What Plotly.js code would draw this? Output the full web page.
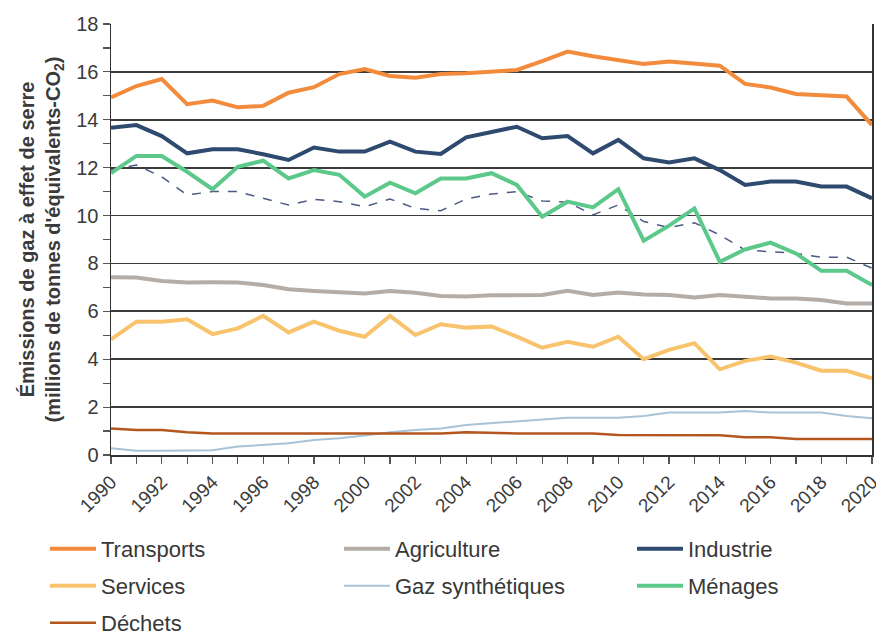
<!DOCTYPE html>
<html>
<head>
<meta charset="utf-8">
<script src="https://cdn.plot.ly/plotly-3.0.1.min.js"></script>
<style>html,body{margin:0;padding:0;background:#fff;}#chart{width:876px;height:634px;}</style>
</head>
<body>
<div id="chart"></div>
<script>
const years = [1990,1991,1992,1993,1994,1995,1996,1997,1998,1999,2000,2001,2002,2003,2004,2005,2006,2007,2008,2009,2010,2011,2012,2013,2014,2015,2016,2017,2018,2019,2020];
const transports = [14.93,15.41,15.70,14.65,14.80,14.52,14.58,15.13,15.36,15.91,16.12,15.83,15.76,15.91,15.94,16.00,16.08,16.45,16.85,16.65,16.50,16.33,16.43,16.36,16.26,15.50,15.35,15.08,15.04,14.97,13.78];
const agriculture = [7.42,7.41,7.27,7.20,7.21,7.20,7.10,6.92,6.85,6.82,6.75,6.85,6.78,6.64,6.62,6.67,6.68,6.68,6.86,6.68,6.79,6.70,6.68,6.58,6.68,6.62,6.54,6.54,6.47,6.33,6.33];
const industrie = [13.67,13.78,13.32,12.60,12.77,12.77,12.56,12.32,12.84,12.67,12.67,13.09,12.67,12.57,13.27,13.50,13.71,13.23,13.32,12.60,13.16,12.39,12.22,12.39,11.90,11.28,11.42,11.42,11.21,11.21,10.72];
const services = [4.83,5.57,5.57,5.67,5.05,5.29,5.81,5.12,5.57,5.19,4.94,5.81,5.01,5.46,5.32,5.37,4.94,4.48,4.73,4.52,4.94,4.00,4.39,4.67,3.58,3.93,4.11,3.86,3.52,3.52,3.20];
const gazSynth = [0.28,0.18,0.18,0.18,0.20,0.35,0.42,0.49,0.63,0.70,0.81,0.95,1.04,1.11,1.25,1.33,1.43,1.49,1.56,1.56,1.56,1.63,1.77,1.77,1.77,1.84,1.77,1.77,1.77,1.63,1.53];
const menages = [11.77,12.49,12.49,11.83,11.10,12.04,12.29,11.55,11.90,11.70,10.79,11.37,10.93,11.55,11.55,11.77,11.28,9.95,10.58,10.34,11.10,8.95,9.58,10.30,8.07,8.59,8.87,8.42,7.69,7.69,7.10];
const menagesCorr = [11.90,12.11,11.62,10.86,11.00,11.00,10.72,10.44,10.68,10.58,10.37,10.69,10.30,10.20,10.69,10.90,11.00,10.61,10.56,10.03,10.44,9.75,9.50,9.70,9.19,8.56,8.49,8.42,8.26,8.26,7.80];
const dechets = [1.11,1.04,1.04,0.95,0.90,0.90,0.90,0.90,0.90,0.90,0.90,0.90,0.90,0.90,0.95,0.92,0.90,0.90,0.90,0.90,0.84,0.83,0.83,0.83,0.83,0.74,0.74,0.67,0.67,0.67,0.67];

function tr(name, y, color, width, legend, extra) {
  return Object.assign({
    type: 'scatter', mode: 'lines', x: years, y: y, name: name,
    line: {color: color, width: width}, legend: legend
  }, extra || {});
}

const data = [
  tr('Gaz synthétiques', gazSynth, '#a9c3d6', 2, 'legend5'),
  tr('Déchets', dechets, '#b5561e', 2.5, 'legend7'),
  tr('Agriculture', agriculture, '#b5aca6', 4, 'legend2'),
  tr('Services', services, '#f8c36c', 4, 'legend4'),
  tr('Ménages (corrigé du climat)', menagesCorr, '#4a5a84', 1.5, 'legend', {line: {color: '#4a5a84', width: 1.5, dash: 'dash'}, showlegend: false}),
  tr('Ménages', menages, '#5cc98a', 4, 'legend6'),
  tr('Industrie', industrie, '#2e4a6e', 4, 'legend3'),
  tr('Transports', transports, '#f28c3c', 4, 'legend')
];

// plot area in pixels: x 111..872, y 24..455
const PL = 111, PW = 761, PB = 455, PH = 431;
const legendFont = {family: 'Liberation Sans, Arial, sans-serif', size: 22, color: '#383838'};
function leg(leftPx, centerYPx) {
  return {
    orientation: 'h', x: (leftPx - PL) / PW, xanchor: 'left',
    y: (PB - centerYPx) / PH, yanchor: 'middle',
    font: legendFont, bgcolor: 'rgba(0,0,0,0)', itemwidth: 46, borderwidth: 0
  };
}
const colL = [45, 339, 632];
const rowY = [549, 586, 623];

const layout = {
  width: 876, height: 634,
  margin: {l: 111, r: 4, t: 24, b: 179, autoexpand: false},
  paper_bgcolor: '#ffffff', plot_bgcolor: '#ffffff',
  font: {family: 'Liberation Sans, Arial, sans-serif', color: '#3a3a3a'},
  showlegend: true,
  xaxis: {
    range: [1990, 2020], dtick: 2, tick0: 1990, tickangle: -45,
    showgrid: false, zeroline: false,
    showline: true, linecolor: '#333', linewidth: 1.5, mirror: false,
    ticks: 'outside', ticklen: 7, tickcolor: '#555', tickwidth: 1.2,
    minor: {dtick: 1, ticks: 'outside', ticklen: 7, tickcolor: '#555', showgrid: false},
    tickfont: {size: 19, color: '#3a3a3a'}, ticklabeloverflow: 'allow'
  },
  yaxis: {
    range: [0, 18], dtick: 2, showgrid: true, gridcolor: '#3c3c3c', gridwidth: 1.7,
    zeroline: false, showline: true, linecolor: '#333', linewidth: 1.5, mirror: true,
    ticks: 'outside', ticklen: 7, tickcolor: '#555', tickwidth: 1.2,
    minor: {dtick: 1, ticks: 'outside', ticklen: 7, tickcolor: '#555', showgrid: false},
    tickfont: {size: 20, color: '#3a3a3a'},
    title: {text: '<b>Émissions de gaz à effet de serre</b><br><b>(millions de tonnes d\'équivalents-CO<sub>2</sub>)</b>',
            font: {size: 20, color: '#3a3a3a'}, standoff: 10}
  },
  legend: leg(colL[0], rowY[0]),
  legend2: leg(colL[1], rowY[0]),
  legend3: leg(colL[2], rowY[0]),
  legend4: leg(colL[0], rowY[1]),
  legend5: leg(colL[1], rowY[1]),
  legend6: leg(colL[2], rowY[1]),
  legend7: leg(colL[0], rowY[2])
};

Plotly.newPlot('chart', data, layout, {displayModeBar: false, staticPlot: true});
</script>
</body>
</html>
